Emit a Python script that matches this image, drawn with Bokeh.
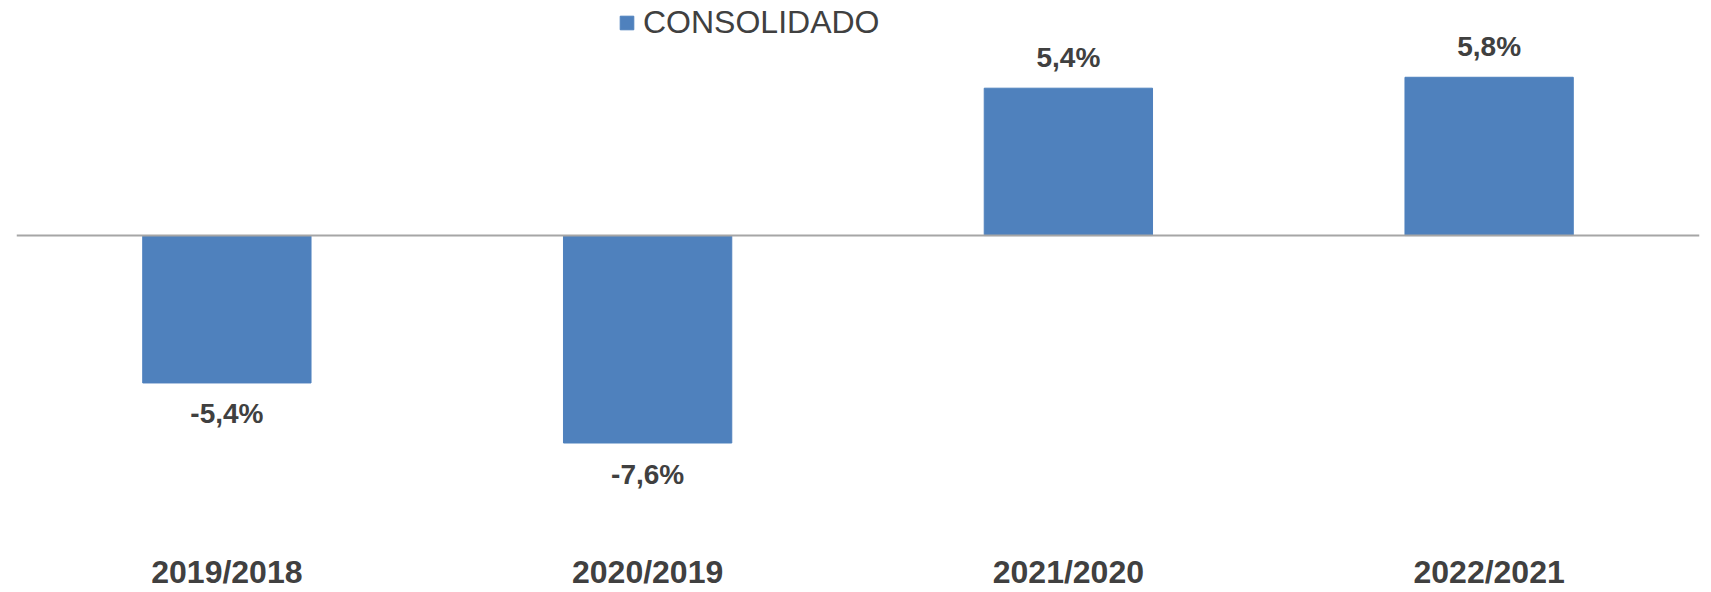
from bokeh.plotting import figure
from bokeh.models import ColumnDataSource, Span, Legend, LegendItem, FactorRange, Range1d
from bokeh.core.properties import value
from bokeh.embed import file_html
from bokeh.resources import INLINE

categories = ["2019/2018", "2020/2019", "2021/2020", "2022/2021"]
consolidado = [-5.4, -7.6, 5.4, 5.8]
value_labels = ["-5,4%", "-7,6%", "5,4%", "5,8%"]
series_name = "CONSOLIDADO"

BAR = "#4F81BD"
TXT = "#404040"
FONT = "Liberation Sans"

src = ColumnDataSource(dict(
    cat=categories,
    val=consolidado,
    lab=value_labels,
    off=[31 if v < 0 else -31 for v in consolidado],
))

p = figure(width=1711, height=592, x_range=FactorRange(*categories, range_padding=0),
           y_range=Range1d(-9.45, 8.613),
           output_backend="svg", toolbar_location=None,
           min_border_left=16, min_border_right=12, min_border_top=0, min_border_bottom=10)
p.outline_line_color = None
p.background_fill_color = "white"
p.border_fill_color = "white"
p.grid.visible = False
p.yaxis.visible = False

r = p.vbar(x="cat", top="val", bottom=0, width=0.4, source=src,
           fill_color=BAR, line_color=BAR, line_width=1)

p.add_layout(Span(location=0, dimension="width", line_color="#A6A6A6", line_width=2))

p.text(x="cat", y="val", text="lab", y_offset="off", source=src,
       text_align="center", text_baseline="middle",
       text_font=value(FONT), text_font_style="bold",
       text_font_size="28px", text_color=TXT)

ax = p.xaxis[0]
ax.axis_line_color = None
ax.major_tick_line_color = None
ax.minor_tick_line_color = None
ax.major_tick_out = 0
ax.major_tick_in = 0
ax.major_label_standoff = 60
ax.major_label_text_font = FONT
ax.major_label_text_font_style = "bold"
ax.major_label_text_font_size = "32px"
ax.major_label_text_color = TXT

legend = Legend(items=[LegendItem(label=series_name, renderers=[r])],
                location=(602, 452), orientation="horizontal",
                margin=0, padding=0, border_line_color=None, background_fill_alpha=0,
                glyph_width=17, glyph_height=17, label_standoff=8,
                label_text_font=FONT, label_text_font_size="32px",
                label_text_color=TXT)
p.add_layout(legend)

open("out.html", "w").write(file_html(p, INLINE))
